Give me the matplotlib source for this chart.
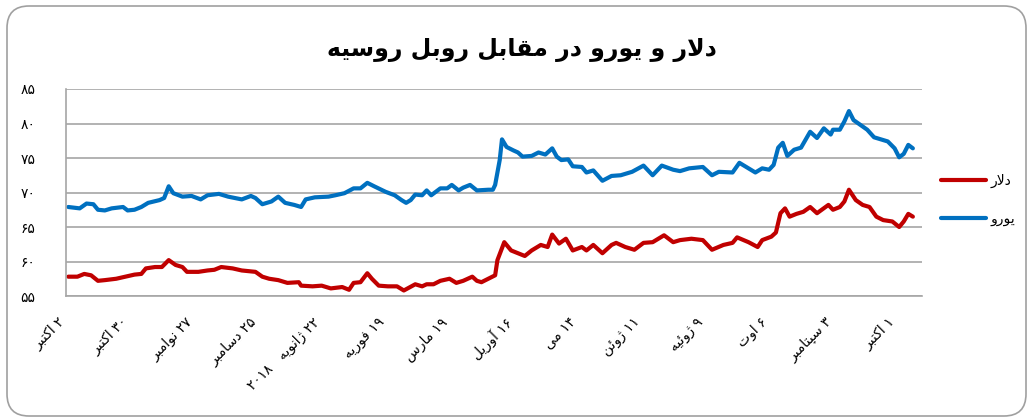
import re
import numpy as np
import matplotlib
matplotlib.use('Agg')
import matplotlib.pyplot as plt
from matplotlib.patches import FancyBboxPatch
from matplotlib.transforms import IdentityTransform, ScaledTranslation
from matplotlib.ticker import FuncFormatter

START = np.datetime64('2017-10-02')

# days since START, rouble per euro
euro_days = [0, 5, 8, 11, 13, 16, 19, 24, 26, 29, 32, 35, 40, 42, 44, 46, 50, 54, 58, 61,
             66, 70, 76, 80, 82, 85, 89, 92, 95, 99, 102, 104, 108, 114, 117, 121, 125, 128,
             131, 134, 139, 143, 146, 148, 150, 152, 155, 157, 159, 163, 166, 168, 171, 173,
             176, 179, 184, 186, 187, 189, 190, 192, 195, 197, 199, 203, 206, 209, 212, 214,
             216, 219, 221, 225, 227, 230, 234, 238, 242, 247, 252, 256, 260, 265, 268, 272,
             278, 282, 285, 291, 294, 298, 301, 304, 307, 309, 311, 313, 315, 318, 321, 325,
             328, 331, 334, 335, 338, 340, 342, 344, 347, 350, 353, 356, 359, 362, 364, 366,
             368, 370]
euro_vals = [67.9, 67.7, 68.4, 68.3, 67.5, 67.4, 67.7, 67.9, 67.4, 67.5, 67.9, 68.5, 68.9, 69.2,
             70.9, 69.9, 69.4, 69.5, 69.0, 69.6, 69.8, 69.4, 69.0, 69.5, 69.2, 68.3, 68.7, 69.4,
             68.5, 68.2, 67.9, 69.0, 69.3, 69.4, 69.6, 69.9, 70.6, 70.6, 71.4, 70.9, 70.1, 69.6,
             68.9, 68.5, 68.9, 69.7, 69.6, 70.3, 69.6, 70.6, 70.6, 71.1, 70.3, 70.7, 71.1, 70.3,
             70.4, 70.4, 71.1, 74.7, 77.7, 76.6, 76.1, 75.8, 75.2, 75.3, 75.8, 75.5, 76.4, 75.2,
             74.7, 74.8, 73.8, 73.7, 72.9, 73.2, 71.7, 72.4, 72.5, 73.0, 73.9, 72.5, 73.9, 73.3,
             73.1, 73.5, 73.7, 72.5, 73.0, 72.9, 74.3, 73.5, 72.9, 73.5, 73.3, 74.0, 76.5, 77.2,
             75.3, 76.2, 76.5, 78.8, 77.9, 79.3, 78.4, 79.1, 79.1, 80.3, 81.8, 80.5, 79.8, 79.1,
             78.0, 77.7, 77.4, 76.4, 75.1, 75.6, 76.9, 76.4]

# days since START, rouble per dollar
dollar_days = [0, 4, 7, 10, 13, 16, 21, 25, 29, 32, 34, 38, 41, 44, 47, 50, 52, 57, 61, 64,
               67, 72, 76, 82, 85, 88, 92, 96, 101, 102, 107, 111, 115, 120, 123, 125, 128, 131,
               133, 136, 140, 144, 147, 152, 155, 157, 160, 163, 167, 170, 173, 177, 179, 181,
               184, 187, 188, 191, 194, 197, 200, 203, 207, 210, 212, 215, 218, 221, 225, 227,
               230, 234, 238, 240, 244, 248, 252, 256, 261, 265, 268, 273, 278, 282, 287, 291,
               293, 298, 302, 304, 308, 310, 312, 314, 316, 319, 322, 325, 328, 333, 335, 338,
               340, 342, 345, 348, 351, 354, 357, 361, 364, 366, 368, 370]
dollar_vals = [57.8, 57.8, 58.2, 58.0, 57.2, 57.3, 57.5, 57.8, 58.1, 58.2, 59.0, 59.2, 59.2, 60.2,
               59.5, 59.2, 58.5, 58.5, 58.7, 58.8, 59.2, 59.0, 58.7, 58.5, 57.8, 57.5, 57.3, 56.9,
               57.0, 56.5, 56.4, 56.5, 56.1, 56.3, 55.9, 56.9, 57.0, 58.3, 57.5, 56.5, 56.4, 56.4,
               55.8, 56.7, 56.4, 56.7, 56.7, 57.2, 57.5, 56.9, 57.2, 57.8, 57.2, 57.0, 57.5, 58.0,
               60.2, 62.8, 61.6, 61.2, 60.8, 61.6, 62.4, 62.1, 63.9, 62.6, 63.3, 61.6, 62.1, 61.6,
               62.4, 61.2, 62.4, 62.7, 62.1, 61.7, 62.7, 62.8, 63.8, 62.8, 63.1, 63.3, 63.1, 61.7,
               62.4, 62.7, 63.5, 62.8, 62.1, 63.1, 63.6, 64.2, 67.0, 67.7, 66.5, 66.9, 67.2, 67.9,
               67.0, 68.2, 67.5, 67.9, 68.7, 70.4, 68.9, 68.2, 67.9, 66.5, 66.0, 65.8, 65.0, 65.8,
               66.9, 66.5]

tick_dates = ['2017-10-02', '2017-10-30', '2017-11-27', '2017-12-25', '2018-01-22', '2018-02-19',
              '2018-03-19', '2018-04-16', '2018-05-14', '2018-06-11', '2018-07-09', '2018-08-06',
              '2018-09-03', '2018-10-01']
tick_labels = ['۲ اکتبر', '۳۰ اکتبر', '۲۷ نوامبر', '۲۵ دسامبر', '۲۲ ژانویه   ۲۰۱۸', '۱۹ فوریه',
               '۱۹ مارس', '۱۶ آوریل', '۱۴ می', '۱۱ ژوئن', '۹ ژوئیه', '۶ اوت', '۳ سپتامبر', '۱ اکتبر']
yticks = [55, 60, 65, 70, 75, 80, 85]

title = 'دلار و یورو در مقابل روبل روسیه'
name_dollar = 'دلار'
name_euro = 'یورو'

# matplotlib does no arabic shaping, so pick presentation forms by hand
# (isolated, final, initial, medial)
FORMS = {
    'ا': ('\uFE8D', '\uFE8E', None, None),
    'آ': ('\uFE81', '\uFE82', None, None),
    'ب': ('\uFE8F', '\uFE90', '\uFE91', '\uFE92'),
    'پ': ('\uFB56', '\uFB57', '\uFB58', '\uFB59'),
    'ت': ('\uFE95', '\uFE96', '\uFE97', '\uFE98'),
    'د': ('\uFEA9', '\uFEAA', None, None),
    'ر': ('\uFEAD', '\uFEAE', None, None),
    'ژ': ('\uFB8A', '\uFB8B', None, None),
    'س': ('\uFEB1', '\uFEB2', '\uFEB3', '\uFEB4'),
    'ف': ('\uFED1', '\uFED2', '\uFED3', '\uFED4'),
    'ق': ('\uFED5', '\uFED6', '\uFED7', '\uFED8'),
    'ک': ('\uFB8E', '\uFB8F', '\uFB90', '\uFB91'),
    'ل': ('\uFEDD', '\uFEDE', '\uFEDF', '\uFEE0'),
    'م': ('\uFEE1', '\uFEE2', '\uFEE3', '\uFEE4'),
    'ن': ('\uFEE5', '\uFEE6', '\uFEE7', '\uFEE8'),
    'ه': ('\uFEE9', '\uFEEA', '\uFEEB', '\uFEEC'),
    'و': ('\uFEED', '\uFEEE', None, None),
    'ی': ('\uFBFC', '\uFBFD', '\uFBFE', '\uFBFF'),
    'ئ': ('\uFE89', '\uFE8A', '\uFE8B', '\uFE8C'),
}
LAM_ALEF = {'ا': ('\uFEFB', '\uFEFC'), 'آ': ('\uFEF5', '\uFEF6')}


def joins_left(c):
    return c in FORMS and FORMS[c][2] is not None


def shape(s):
    out = []
    i = 0
    while i < len(s):
        c = s[i]
        prev = s[i - 1] if i > 0 else ''
        after = s[i + 1] if i + 1 < len(s) else ''
        p = joins_left(prev)
        if c == 'ل' and after in LAM_ALEF:
            out.append(LAM_ALEF[after][1 if p else 0])
            i += 2
            continue
        if c in FORMS:
            n = joins_left(c) and after in FORMS
            f = FORMS[c]
            if p and n:
                out.append(f[3])
            elif p:
                out.append(f[1])
            elif n:
                out.append(f[2])
            else:
                out.append(f[0])
        else:
            out.append(c)
        i += 1
    return ''.join(out)


def rtl(s):
    r = shape(s)[::-1]
    return re.sub('[\u06F0-\u06F90-9]+', lambda m: m.group(0)[::-1], r)


def fa_digits(v):
    return ''.join('۰۱۲۳۴۵۶۷۸۹'[int(ch)] if ch.isdigit() else ch for ch in v)


def to_dates(days):
    return START + np.array(days).astype('timedelta64[D]')


plt.rcParams['font.family'] = ['DejaVu Sans']

fig = plt.figure(figsize=(10.3, 4.18), dpi=100)
ax = fig.add_axes([66 / 1030, 1 - 296 / 418, (922 - 66) / 1030, (296 - 89) / 418])

red = '#C00000'
blue = '#0070C0'
grid = '#a6a6a6'

l_dollar, = ax.plot(to_dates(dollar_days), dollar_vals, color=red, lw=3.0,
                    solid_joinstyle='round', solid_capstyle='round')
l_euro, = ax.plot(to_dates(euro_days), euro_vals, color=blue, lw=3.0,
                  solid_joinstyle='round', solid_capstyle='round')

ax.set_ylim(55, 85)
ax.set_yticks(yticks)
ax.yaxis.set_major_formatter(FuncFormatter(lambda v, p: fa_digits('%d' % v)))
ax.set_xlim(START - np.timedelta64(1, 'D'), START + np.timedelta64(374, 'D'))
ticks = np.array(tick_dates, dtype='datetime64[D]')
ax.set_xticks(ticks)
ax.set_xticklabels([])
ax.tick_params(axis='x', length=0)
ax.tick_params(axis='y', length=0, pad=22, labelsize=10)

# rotated date labels, hung just below the axis
lab_tr = ax.get_xaxis_transform() + ScaledTranslation(-0.11, -0.19, fig.dpi_scale_trans)
for t, lab in zip(ticks, tick_labels):
    ax.text(t, 0, rtl(lab), transform=lab_tr, rotation=45, rotation_mode='anchor',
            ha='right', va='top', fontsize=10)

ax.grid(axis='y', color=grid, lw=1.2)
ax.set_axisbelow(True)
for side in ['top', 'right']:
    ax.spines[side].set_visible(False)
for side in ['left', 'bottom']:
    ax.spines[side].set_color(grid)
    ax.spines[side].set_linewidth(1.2)

fig.text(0.507, 1 - 50 / 418, rtl(title), ha='center', va='center',
         fontsize=17, fontweight='bold')

fig.legend([l_dollar, l_euro], [rtl(name_dollar), rtl(name_euro)],
           loc='center left', bbox_to_anchor=(928 / 1030, 1 - 200 / 418),
           frameon=False, fontsize=10, handlelength=3.3, handletextpad=0.3,
           labelspacing=1.7)

fig.add_artist(FancyBboxPatch((7, 2), 1019, 410, boxstyle='round,pad=0,rounding_size=22',
                              transform=IdentityTransform(), facecolor='none',
                              edgecolor='#a0a0a0', lw=1.2))

fig.savefig('out.png', dpi=100)
